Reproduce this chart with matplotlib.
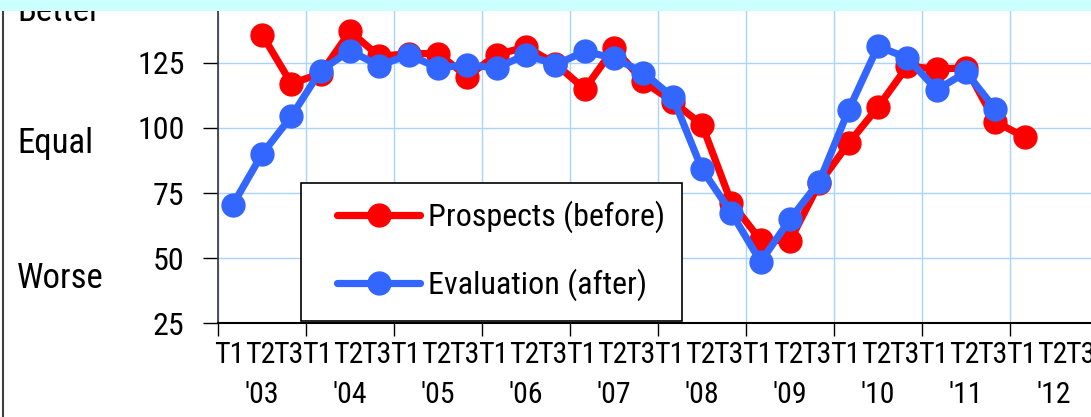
import matplotlib
matplotlib.use("Agg")
import matplotlib.pyplot as plt
from matplotlib.lines import Line2D
from matplotlib.patches import Rectangle
import matplotlib.transforms as mtransforms
import numpy as np

plt.rcParams['font.family'] = ['Roboto Condensed', 'Liberation Sans', 'DejaVu Sans']

years = ["'03", "'04", "'05", "'06", "'07", "'08", "'09", "'10", "'11", "'12"]
terms = ["T1", "T2", "T3"]
y_ticks = [25, 50, 75, 100, 125]
side_labels = ["Better", "Equal", "Worse"]

prospects = [np.nan, 135.8, 117.0, 120.8, 137.0, 127.4, 128.5, 128.5, 119.7, 128.1,
             131.0, 124.6, 114.9, 130.6, 117.8, 110.1, 101.2, 71.3, 56.9, 56.7,
             78.7, 94.1, 108.0, 123.6, 122.6, 123.0, 102.4, 96.4]
evaluation = [70.4, 89.9, 104.4, 122.0, 129.6, 123.8, 128.1, 123.0, 124.2, 123.0,
              128.1, 124.2, 129.3, 126.8, 121.2, 111.8, 84.1, 67.4, 48.6, 64.9,
              79.4, 106.9, 131.3, 126.8, 114.6, 121.3, 107.2]

W, H = 1091, 417
fig = plt.figure(figsize=(W / 100, H / 100), dpi=100)

n_slots = len(years) * len(terms)
ax_left = 218 / W
ax_bottom = 1 - 323.3 / H
px_per_unit = 260.6 / 100
top_px = 323.3 - (150 - 25) * px_per_unit
ax_height = (323.3 - top_px) / H
ax_width = n_slots * (88 / 3) / W
ax = fig.add_axes([ax_left, ax_bottom, ax_width, ax_height])
ax.set_xlim(-0.5, n_slots - 0.5)
ax.set_ylim(25, 150)

red = '#FF0000'
blue = '#3366FF'
x_p = np.arange(len(prospects))
x_e = np.arange(len(evaluation))
ax.plot(x_p, prospects, color=red, lw=5.2, marker='o', ms=16.5,
        label='Prospects (before)', zorder=3, solid_capstyle='round')
ax.plot(x_e, evaluation, color=blue, lw=5.2, marker='o', ms=16.5,
        label='Evaluation (after)', zorder=4, solid_capstyle='round')

# y axis
ax.set_yticks(y_ticks)
ax.set_yticklabels([str(v) for v in y_ticks], fontsize=23)
ax.tick_params(axis='y', direction='out', length=11, width=1, pad=13, colors='black')

# x axis: major ticks at year boundaries, minor labels for terms
year_bounds = np.arange(-0.5, n_slots, 3)
ax.set_xticks(year_bounds)
ax.set_xticklabels([''] * len(year_bounds))
ax.tick_params(axis='x', which='major', direction='out', length=9.5, width=1)
offsets = {"T1": -0.13, "T2": -0.07, "T3": -0.12}
minor_pos = []
minor_lab = []
for yi in range(len(years)):
    for ti, t in enumerate(terms):
        minor_pos.append(yi * 3 + ti + offsets[t])
        minor_lab.append(t)
ax.set_xticks(minor_pos, minor=True)
ax.set_xticklabels(minor_lab, minor=True, fontsize=21.5)
ax.tick_params(axis='x', which='minor', length=0, pad=13)

year_tr = mtransforms.blended_transform_factory(ax.transData, fig.transFigure)
for yi, yl in enumerate(years):
    ax.text(yi * 3 + 1, 1 - 395 / H, yl, transform=year_tr,
            ha='center', va='center', fontsize=21.5)

# grid
ax.grid(True, which='major', color='#A8D4FF', lw=1.0)
ax.set_axisbelow(True)
for s in ['top', 'right']:
    ax.spines[s].set_visible(False)
ax.spines['left'].set_color('#333333')
ax.spines['bottom'].set_color('black')
ax.spines['left'].set_linewidth(1.2)
ax.spines['bottom'].set_linewidth(1.5)

# legend: frame drawn as its own box, entries placed inside
ax.add_patch(Rectangle((301 / W, 1 - 321 / H), (682 - 301) / W, (321 - 183) / H,
                       transform=fig.transFigure, facecolor='white', edgecolor='black',
                       lw=1.2, zorder=9, clip_on=False))
leg = ax.legend(loc='center left', bbox_to_anchor=(337 / W, 1 - 251 / H),
                bbox_transform=fig.transFigure, fontsize=23, frameon=False,
                handlelength=2.6, handletextpad=0.25, borderpad=0,
                labelspacing=1.1, borderaxespad=0)
leg.set_zorder(10)

# side labels
for lab, base_px in zip(side_labels, [20.7, 153, 288]):
    fig.text(17 / W, 1 - base_px / H, lab, ha='left', va='baseline', fontsize=25)

# left border line and top banner
fig.add_artist(Line2D([2.5 / W, 2.5 / W], [0, 1], color='#404040', lw=1.5,
                      transform=fig.transFigure))
fig.add_artist(Rectangle((0, 1 - 10.7 / H), 1, 10.7 / H, transform=fig.transFigure,
                         facecolor='#CCFFFF', edgecolor='none', zorder=20))

fig.savefig('out.png', dpi=100)
